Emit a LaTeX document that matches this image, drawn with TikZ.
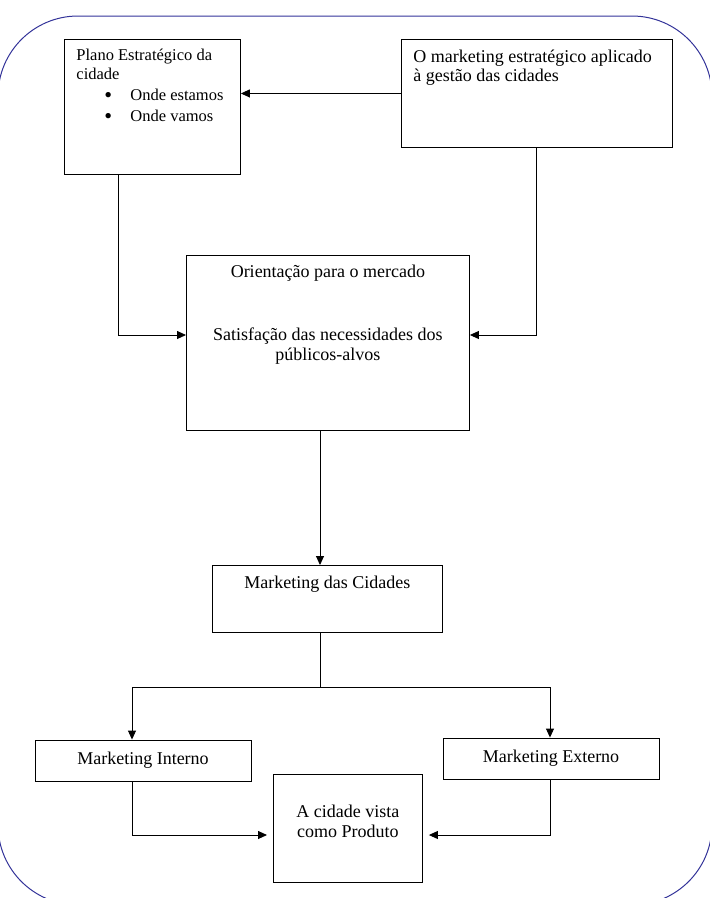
\documentclass[tikz,border=0pt]{standalone}
\usepackage{fontspec}
\setmainfont{Liberation Serif}
\usepackage{tikz}
\usetikzlibrary{arrows.meta, calc}

\definecolor{azulborda}{RGB}{51,51,153}

\tikzset{
  caixa/.style={draw, line width=0.9pt, font=\fontsize{18}{20}\selectfont},
  topo/.style={anchor=north west, inner xsep=12pt},
  seta/.style={line width=0.9pt, -{Triangle[length=9pt,width=8pt]}},
  linha/.style={line width=0.9pt},
}

\begin{document}
\begin{tikzpicture}[x=1pt, y=-1pt]
   %
   \useasboundingbox (0,0) rectangle (710,898);
   %
   \draw[azulborda, line width=1pt, rounded corners=80pt] (-2,16) rectangle (712,905);
   %
   \node[caixa, topo, inner ysep=10pt] (plano) at (64,39)
     {\parbox[t][115pt][t]{152pt}{\fontsize{16.5}{18.5}\selectfont\raggedright
      Plano Estratégico da\\
      cidade\\[2.5pt]
      \hspace*{28pt}\makebox[26pt][l]{\raisebox{-1.8pt}{\scalebox{1.35}{\textbullet}}}Onde estamos\\[2.5pt]
      \hspace*{28pt}\makebox[26pt][l]{\raisebox{-1.8pt}{\scalebox{1.35}{\textbullet}}}Onde vamos}};
   %
   \node[caixa, topo, inner ysep=11pt] (marketing) at (401,39)
     {\parbox[t][86pt][t]{247pt}{\fontsize{18}{19}\selectfont\raggedright
      O marketing estratégico aplicado\\
      à gestão das cidades}};
   %
   \node[caixa, topo, inner ysep=10pt] (centro) at (186,255)
     {\parbox[t][155pt][t]{259pt}{\centering
      Orientação para o mercado\\[43pt]
      Satisfação das necessidades dos\\
      públicos-alvos}};
   %
   \node[caixa, topo, inner ysep=10.5pt] (cidades) at (212,565)
     {\parbox[t][46pt][t]{206pt}{\centering Marketing das Cidades}};
   %
   \node[caixa, minimum width=216pt, minimum height=41pt, inner sep=0pt]
     (interno) at (143,760.5) {Marketing Interno};
   \node[caixa, minimum width=216pt, minimum height=41pt, inner sep=0pt]
     (externo) at (551,758.5) {Marketing Externo};
   %
   \node[caixa, topo, inner ysep=30.5pt] (cidade) at (273,774)
     {\parbox[t][47pt][t]{125pt}{\centering
      A cidade vista\\
      como Produto}};
   %
   % ligacoes
   \coordinate (dobraplano) at (118,335);
   \coordinate (dobramkt) at (536,335);
   \coordinate (eixo) at (320,687);
   \coordinate (ramoint) at (132,687);
   \coordinate (ramoext) at (550,687);
   \coordinate (base) at (0,835);
   %
   \draw[seta] (marketing.west) -- (marketing.west -| plano.east);
   \draw[seta] (plano.south -| dobraplano) |- (centro.west |- dobraplano);
   \draw[seta] (marketing.south -| dobramkt) |- (centro.east |- dobramkt);
   %
   \draw[seta] (centro.south -| eixo) -- (cidades.north -| eixo);
   \draw[linha] (cidades.south -| eixo) -- (eixo);
   \draw[linha] (ramoint) -- (ramoext);
   \draw[seta] (ramoint) -- (interno.north -| ramoint);
   \draw[seta] (ramoext) -- (externo.north -| ramoext);
   %
   \draw[seta, shorten >=6pt] (interno.south -| ramoint) |- (cidade.west |- base);
   \draw[seta, shorten >=6pt] (externo.south -| ramoext) |- (cidade.east |- base);
   %
\end{tikzpicture}
\end{document}
